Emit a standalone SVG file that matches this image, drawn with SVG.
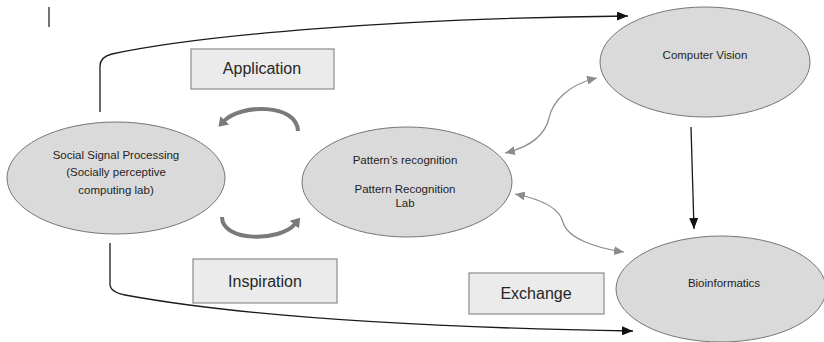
<svg xmlns="http://www.w3.org/2000/svg" width="824" height="342" viewBox="0 0 824 342">
  <style>
    .node ellipse { fill: #dadada; stroke: #767676; stroke-width: 1; }
    .node text { font-family: "Liberation Sans", Arial, sans-serif; font-size: 11.5px; fill: #1f1f1f; text-anchor: middle; }
    .label rect { fill: #ebebeb; stroke: #8c8c8c; stroke-width: 1.2; }
    .label text { font-family: "Liberation Sans", Arial, sans-serif; font-size: 16px; fill: #262626; text-anchor: middle; }
    .link { fill: none; stroke: #1a1a1a; stroke-width: 1.3; marker-end: url(#arrowBlack); }
    .exchange { fill: none; stroke: #8c8c8c; stroke-width: 1.2; marker-start: url(#arrowGray); marker-end: url(#arrowGray); }
    .cycle { fill: none; stroke: #7a7a7a; stroke-width: 4; marker-end: url(#arrowCycle); }
  </style>
  <defs>
    <marker id="arrowBlack" markerUnits="userSpaceOnUse" markerWidth="11" markerHeight="9" refX="11" refY="4.5" orient="auto">
      <path d="M0,0 L11,4.5 L0,9 z" fill="#111"/>
    </marker>
    <marker id="arrowGray" markerUnits="userSpaceOnUse" markerWidth="10" markerHeight="9" refX="10" refY="4.5" orient="auto-start-reverse">
      <path d="M0,0 L10,4.5 L0,9 z" fill="#8c8c8c"/>
    </marker>
    <marker id="arrowCycle" markerUnits="userSpaceOnUse" markerWidth="10" markerHeight="12" refX="1" refY="6" orient="auto">
      <path d="M0,0 L9,6 L0,12 z" fill="#7a7a7a"/>
    </marker>
  </defs>

  <!-- text cursor mark -->
  <line x1="49" y1="7" x2="49" y2="27" stroke="#444" stroke-width="1.5"/>

  <!-- connectors -->
  <g id="connectors">
    <path class="link" d="M100,112 L100,66 Q100,57 112,54 C200,35 400,18 628,16"/>
    <path class="link" d="M110,243 L110,284 Q110,292 125,295 C250,318 450,328 633,331"/>
    <path class="link" d="M691,127 L694,229"/>
    <path class="exchange" d="M505,153 C530,147 545,135 549,118 C553,100 570,84 597,78"/>
    <path class="exchange" d="M515,194 C545,200 560,210 563,222 C567,238 595,248 624,252"/>
    <path class="cycle" d="M298,131 C297,103 240,104 224,121"/>
    <path class="cycle" d="M222,217 C222,242 280,242 295,224"/>
  </g>

  <!-- relation labels -->
  <g id="label-application" class="label">
    <rect x="191" y="49" width="143" height="40"/>
    <text x="262" y="74">Application</text>
  </g>
  <g id="label-inspiration" class="label">
    <rect x="193" y="259" width="144" height="44"/>
    <text x="265" y="287">Inspiration</text>
  </g>
  <g id="label-exchange" class="label">
    <rect x="469" y="273" width="135" height="41"/>
    <text x="536" y="299">Exchange</text>
  </g>

  <!-- research areas -->
  <g id="node-social" class="node">
    <ellipse cx="116" cy="178" rx="109" ry="56"/>
    <text x="116" y="159">Social Signal Processing</text>
    <text x="116" y="176">(Socially perceptive</text>
    <text x="116" y="194">computing lab)</text>
  </g>
  <g id="node-pattern" class="node">
    <ellipse cx="407" cy="182" rx="105" ry="55"/>
    <text x="405" y="164">Pattern’s recognition</text>
    <text x="405" y="193">Pattern Recognition</text>
    <text x="405" y="207">Lab</text>
  </g>
  <g id="node-vision" class="node">
    <ellipse cx="705" cy="62" rx="105" ry="55"/>
    <text x="705" y="59">Computer Vision</text>
  </g>
  <g id="node-bio" class="node">
    <ellipse cx="721" cy="289" rx="105" ry="53"/>
    <text x="724" y="287">Bioinformatics</text>
  </g>
</svg>
